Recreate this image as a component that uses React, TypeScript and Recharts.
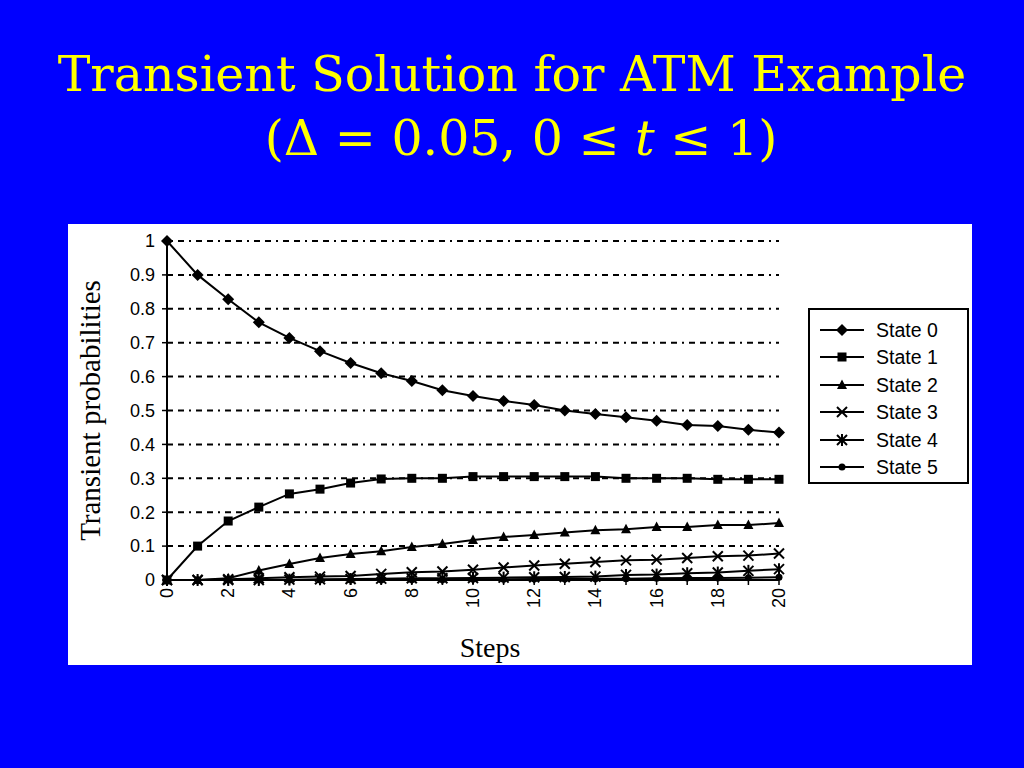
import React from 'react';
import { LineChart, Line, XAxis, YAxis, CartesianGrid, Label } from 'recharts';

// Steps 0..20 (delta = 0.05, 0 <= t <= 1)
const steps = [0, 1, 2, 3, 4, 5, 6, 7, 8, 9, 10, 11, 12, 13, 14, 15, 16, 17, 18, 19, 20];

const state0 = [1.0, 0.9, 0.828, 0.76, 0.714, 0.675, 0.64, 0.61, 0.587, 0.56, 0.543, 0.528, 0.516, 0.5, 0.49, 0.48, 0.47, 0.457, 0.454, 0.443, 0.435];
const state1 = [0, 0.1, 0.174, 0.215, 0.254, 0.268, 0.286, 0.298, 0.3, 0.3, 0.305, 0.305, 0.305, 0.305, 0.305, 0.3, 0.3, 0.3, 0.297, 0.297, 0.297];
const state2 = [0, 0, 0.005, 0.028, 0.047, 0.065, 0.077, 0.085, 0.097, 0.106, 0.118, 0.127, 0.133, 0.14, 0.147, 0.15, 0.156, 0.156, 0.162, 0.162, 0.168];
const state3 = [0, 0, 0.002, 0.005, 0.008, 0.01, 0.012, 0.018, 0.023, 0.025, 0.03, 0.037, 0.043, 0.048, 0.053, 0.058, 0.06, 0.065, 0.07, 0.072, 0.078];
const state4 = [0, 0, 0, 0, 0.001, 0.002, 0.003, 0.004, 0.005, 0.005, 0.006, 0.007, 0.008, 0.009, 0.01, 0.015, 0.016, 0.02, 0.022, 0.027, 0.032];
const state5 = [0, 0, 0, 0, 0, 0, 0, 0, 0.001, 0.001, 0.002, 0.002, 0.003, 0.003, 0.004, 0.004, 0.005, 0.006, 0.006, 0.007, 0.008];

const yTicks = [0, 0.1, 0.2, 0.3, 0.4, 0.5, 0.6, 0.7, 0.8, 0.9, 1];

const seriesList = [
  { key: 's0', name: 'State 0', values: state0, shape: 'diamond' },
  { key: 's1', name: 'State 1', values: state1, shape: 'square' },
  { key: 's2', name: 'State 2', values: state2, shape: 'triangle' },
  { key: 's3', name: 'State 3', values: state3, shape: 'cross' },
  { key: 's4', name: 'State 4', values: state4, shape: 'star' },
  { key: 's5', name: 'State 5', values: state5, shape: 'circle' },
];

const chartData = steps.map((step, i) => {
  const row: any = { step };
  seriesList.forEach(s => { row[s.key] = s.values[i]; });
  return row;
});

const sansFont = '"Liberation Sans", Arial, sans-serif';
const serifFont = '"Liberation Serif", "Times New Roman", serif';

// draws one marker glyph centred on cx, cy
const Marker = ({ cx, cy, shape }: { cx: number; cy: number; shape: string }) => {
  if (cx == null || cy == null) return null;
  switch (shape) {
    case 'diamond':
      return <polygon points={`${cx},${cy - 6} ${cx + 6},${cy} ${cx},${cy + 6} ${cx - 6},${cy}`} fill="#000" />;
    case 'square':
      return <rect x={cx - 4.5} y={cy - 4.5} width={9} height={9} fill="#000" />;
    case 'triangle':
      return <polygon points={`${cx},${cy - 5.5} ${cx + 5},${cy + 4} ${cx - 5},${cy + 4}`} fill="#000" />;
    case 'cross':
      return (
        <g stroke="#000" strokeWidth={2}>
          <line x1={cx - 5} y1={cy - 5} x2={cx + 5} y2={cy + 5} />
          <line x1={cx - 5} y1={cy + 5} x2={cx + 5} y2={cy - 5} />
        </g>
      );
    case 'star':
      return (
        <g stroke="#000" strokeWidth={2}>
          <line x1={cx - 5} y1={cy - 5} x2={cx + 5} y2={cy + 5} />
          <line x1={cx - 5} y1={cy + 5} x2={cx + 5} y2={cy - 5} />
          <line x1={cx} y1={cy - 6} x2={cx} y2={cy + 6} />
        </g>
      );
    default:
      return <circle cx={cx} cy={cy} r={3.5} fill="#000" />;
  }
};

const XTick = ({ x, y, payload }: any) => {
  if (payload.value % 2 !== 0) return null;
  return (
    <text
      x={x}
      y={y + 1}
      transform={`rotate(-90, ${x}, ${y + 1})`}
      textAnchor="end"
      dominantBaseline="central"
      fontFamily={sansFont}
      fontSize={18}
      fill="#000"
    >
      {payload.value}
    </text>
  );
};

const YTitle = ({ viewBox }: any) => {
  const cx = 22;
  const cy = viewBox.y + viewBox.height / 2;
  return (
    <text
      x={cx}
      y={cy}
      transform={`rotate(-90, ${cx}, ${cy})`}
      textAnchor="middle"
      dominantBaseline="central"
      fontFamily={serifFont}
      fontSize={29}
      fill="#000"
    >
      Transient probabilities
    </text>
  );
};

const LegendBox = () => (
  <div
    style={{
      position: 'absolute',
      left: 740,
      top: 84,
      width: 157,
      height: 166,
      border: '2px solid #000',
      background: '#fff',
      paddingTop: 6,
    }}
  >
    {seriesList.map(s => (
      <div key={s.key} style={{ display: 'flex', alignItems: 'center', height: 27.5 }}>
        <svg width={58} height={20} style={{ marginLeft: 8 }}>
          <line x1={2} y1={10} x2={46} y2={10} stroke="#000" strokeWidth={2} />
          <Marker cx={24} cy={10} shape={s.shape} />
        </svg>
        <span style={{ fontFamily: sansFont, fontSize: 19.5, color: '#000', lineHeight: '20px' }}>{s.name}</span>
      </div>
    ))}
  </div>
);

export default function App() {
  return (
    <div style={{ position: 'absolute', left: 0, top: 0, width: 1024, height: 768, background: '#0000ff', overflow: 'hidden' }}>
      <div style={{ position: 'absolute', top: 43, left: 0, width: 1024, textAlign: 'center', color: '#ffff00', fontFamily: '"DejaVu Serif", serif', fontSize: 49, lineHeight: '64px', whiteSpace: 'nowrap' }}>
        <div>Transient Solution for ATM Example</div>
        <div style={{ paddingLeft: 18 }}>(Δ = 0.05, 0 ≤ <i>t</i> ≤ 1)</div>
      </div>
      <div style={{ position: 'absolute', left: 68, top: 224, width: 904, height: 441, background: '#fff' }}>
        <LineChart width={904} height={441} data={chartData} margin={{ top: 17, right: 193, bottom: 0, left: 0 }}>
          <CartesianGrid vertical={false} stroke="#000" strokeWidth={2} strokeDasharray="6 5 6 5 2 5" />
          <XAxis
            dataKey="step"
            type="number"
            domain={[0, 20]}
            ticks={steps}
            interval={0}
            height={85}
            tick={<XTick />}
            tickSize={5}
            axisLine={{ stroke: '#000', strokeWidth: 2 }}
            tickLine={{ stroke: '#000', strokeWidth: 1.5 }}
          >
            <Label value="Steps" position="insideBottom" offset={8} dx={17} fontFamily={serifFont} fontSize={28} fill="#000" />
          </XAxis>
          <YAxis
            type="number"
            domain={[0, 1]}
            ticks={yTicks}
            interval={0}
            width={99}
            tickSize={5}
            tick={{ fontFamily: sansFont, fontSize: 18, fill: '#000', dx: -5 }}
            axisLine={{ stroke: '#000', strokeWidth: 2 }}
            tickLine={{ stroke: '#000', strokeWidth: 1.5 }}
          >
            <Label content={<YTitle />} />
          </YAxis>
          {seriesList.map(s => (
            <Line
              key={s.key}
              dataKey={s.key}
              name={s.name}
              type="linear"
              stroke="#000"
              strokeWidth={2}
              isAnimationActive={false}
              dot={(p: any) => <Marker key={`${s.key}-${p.index}`} cx={p.cx} cy={p.cy} shape={s.shape} />}
              activeDot={false}
            />
          ))}
        </LineChart>
        <LegendBox />
      </div>
    </div>
  );
}
